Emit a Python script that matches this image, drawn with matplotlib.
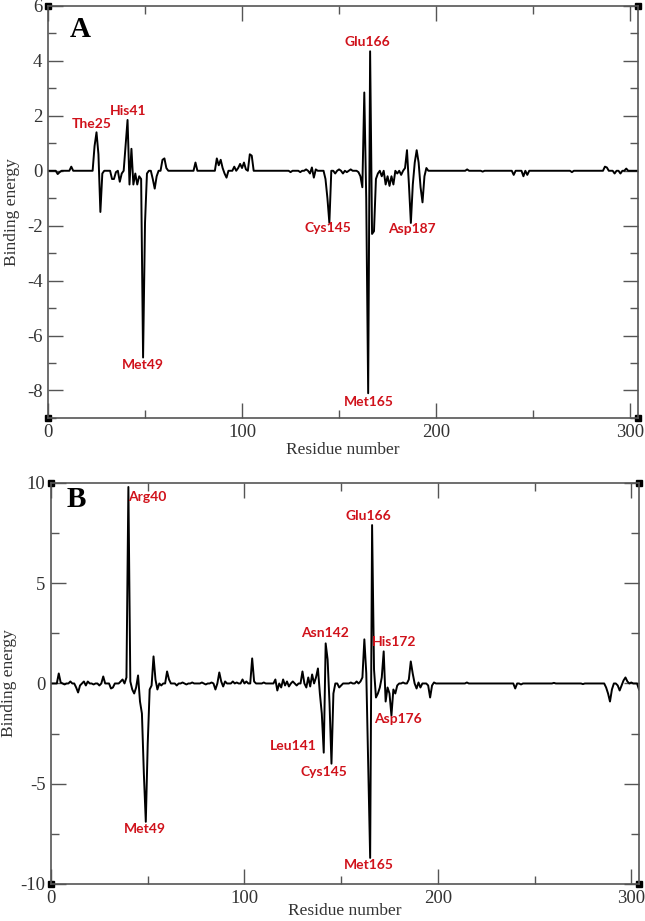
import numpy as np
import matplotlib.pyplot as plt

plt.rcParams['axes.unicode_minus'] = False

# residue energies (all other residues ~0)
a_res = [5, 6, 12, 24, 25, 26, 27, 28, 33, 34, 35, 37, 38, 40, 41, 42, 43, 44,
         45, 46, 47, 48, 49, 50, 51, 54, 55, 56, 59, 60, 61, 76, 87, 88, 89, 90,
         91, 92, 96, 98, 99, 100, 101, 102, 104, 105, 106, 125, 130, 133, 135,
         136, 137, 138, 143, 144, 145, 146, 148, 150, 152, 154, 156, 160, 161,
         162, 163, 164, 165, 166, 167, 168, 169, 170, 172, 174, 175, 176, 177,
         178, 180, 182, 184, 185, 186, 187, 188, 189, 190, 191, 192, 193, 194,
         195, 216, 224, 240, 241, 245, 246, 247, 270, 287, 288, 289, 292, 295,
         298]
a_val = [-0.12, -0.05, 0.15, 0.9, 1.4, 0.6, -1.5, -0.1, -0.3, -0.3, -0.05,
         -0.4, -0.1, 0.9, 1.85, -0.5, 0.8, -0.5, -0.1, -0.5, -0.2, -0.3, -6.8,
         -1.9, -0.1, -0.3, -0.65, -0.2, 0.4, 0.45, 0.1, 0.3, 0.45, 0.2, 0.4, 0.1,
         -0.1, -0.25, 0.15, 0.1, 0.25, 0.1, 0.3, 0.05, 0.6, 0.55, 0.0, -0.05,
         -0.05, 0.05, -0.1, 0.12, -0.25, 0.05, -0.3, -1.0, -1.9, 0.0, -0.1, 0.05,
         -0.1, -0.05, 0.05, -0.05, -0.2, -0.6, 2.85, -1.0, -8.1, 4.35, -2.3,
         -2.2, -0.3, -0.1, -0.2, -0.5, -0.2, -0.55, -0.2, -0.5, -0.1, -0.15,
         0.1, 0.75, -0.5, -1.9, -0.5, 0.3, 0.75, 0.3, -0.6, -1.15, -0.2, 0.1,
         0.05, -0.03, -0.15, 0.0, -0.2, 0.0, -0.15, -0.05, 0.15, 0.12, 0.0,
         -0.1, -0.1, 0.08]

b_res = [4, 5, 7, 10, 13, 14, 15, 17, 18, 19, 22, 25, 27, 28, 31, 32, 33, 36,
         37, 39, 40, 41, 42, 43, 44, 45, 46, 47, 48, 49, 50, 51, 52, 53, 54, 55,
         56, 57, 60, 61, 62, 65, 68, 70, 73, 78, 80, 83, 85, 86, 87, 88, 89, 90,
         92, 94, 96, 99, 101, 103, 104, 105, 106, 110, 116, 117, 118, 119, 120,
         121, 122, 123, 125, 127, 130, 131, 132, 133, 134, 135, 136, 137, 138,
         139, 140, 141, 142, 143, 144, 145, 146, 147, 149, 150, 152, 155, 158,
         160, 161, 162, 163, 164, 165, 166, 167, 168, 169, 170, 171, 172, 173,
         174, 175, 176, 177, 178, 179, 180, 182, 185, 186, 187, 188, 189, 190,
         191, 192, 195, 196, 197, 198, 215, 240, 241, 243, 260, 275, 287, 288,
         289, 290, 291, 293, 294, 295, 296, 297, 298, 300, 302, 304]
b_val = [0.5, 0.05, -0.05, 0.1, -0.2, -0.45, -0.1, 0.1, -0.1, 0.1, -0.05, -0.1,
         0.35, 0.0, -0.25, -0.2, 0.0, 0.1, 0.2, 0.3, 9.8, 0.1, -0.3, -0.5, -0.2,
         0.4, -0.9, -1.5, -4.5, -6.9, -3.0, -0.3, -0.1, 1.35, 0.2, -0.3, 0.0,
         -0.1, 0.6, 0.2, 0.0, -0.1, 0.05, -0.05, 0.05, 0.05, -0.05, 0.05, -0.3,
         0.0, 0.55, 0.1, -0.15, 0.1, 0.0, 0.1, 0.05, 0.2, 0.1, 0.0, 1.25, 0.1,
         0.0, 0.05, 0.2, -0.35, 0.0, -0.2, 0.2, -0.1, 0.1, -0.15, 0.1, -0.1, 0.6,
         0.0, -0.2, 0.3, -0.15, 0.45, 0.0, 0.3, 0.75, -0.5, -1.5, -3.45, 2.0,
         1.2, -1.0, -4.0, -0.5, 0.0, -0.2, -0.1, 0.0, 0.05, 0.1, 0.1, 0.3, 2.2,
         0.5, -4.0, -8.7, 7.9, 0.7, -0.7, -0.5, -0.2, 0.3, 1.6, -0.9, -0.2, -0.5,
         -1.6, -0.3, -0.5, -0.1, 0.0, 0.05, 0.2, 1.1, 0.5, 0.0, -0.25, 0.05,
         -0.2, 0.0, -0.1, -0.7, -0.1, 0.05, 0.05, -0.25, 0.0, -0.05, 0.03, -0.03,
         -0.2, -0.5, -0.9, -0.3, 0.0, -0.1, -0.35, -0.1, 0.15, 0.3, 0.1, 0.05,
         0.0, -0.3]

# residue labels: text, x, y (data coords)
a_labels = [("The25", 22.7, 1.71), ("His41", 41.2, 2.18), ("Met49", 48.7, -7.08),
            ("Cys145", 144.4, -2.08), ("Glu166", 164.7, 4.7),
            ("Met165", 165.5, -8.41), ("Asp187", 187.5, -2.12)]
b_labels = [("Arg40", 49.6, 9.32), ("Met49", 48.5, -7.27), ("Leu141", 125.2, -3.1),
            ("Asn142", 141.8, 2.5), ("Cys145", 141.3, -4.43),
            ("Glu166", 164.0, 8.35), ("His172", 177.6, 2.05),
            ("Asp176", 179.5, -1.79), ("Met165", 164.5, -9.05)]

a_major = [-8, -6, -4, -2, 0, 2, 4, 6]
b_major = [-10, -5, 0, 5, 10]

residues = np.arange(0, 305)


def full_series(res, val):
    e = np.zeros(len(residues))
    e[np.array(res)] = val
    return e


serif = 'Liberation Serif'
frame = '#555555'

fig = plt.figure(figsize=(6.45, 9.21), dpi=100)
axA = fig.add_axes([0.0744, 0.5462, 0.9146, 0.4473])
axB = fig.add_axes([0.0791, 0.0402, 0.9116, 0.4354])

panels = [
    (axA, full_series(a_res, a_val), (-9, 6), a_major, 1, a_labels, "A",
     (16.5, 5.16), -0.047, -0.058),
    (axB, full_series(b_res, b_val), (-10, 10), b_major, 2.5, b_labels, "B",
     (13.2, 9.19), -0.058, -0.047),
]

for ax, energy, ylim, major, minor, labels, letter, lpos, ylab_x, xlab_y in panels:
    ax.plot(residues, energy, color='black', lw=1.4)
    ax.set_xlim(0, 304)
    ax.set_ylim(*ylim)
    ax.set_xticks(np.arange(0, 301, 100))
    ax.set_xticks(np.arange(50, 300, 100), minor=True)
    ax.set_yticks(major)
    ax.set_yticks(np.arange(ylim[0], ylim[1] + 0.01, minor), minor=True)
    ax.tick_params(which='both', direction='in', top=True, right=True,
                   color=frame, width=1.0, labelsize=13.5, labelcolor='#333333',
                   pad=4)
    ax.tick_params(which='major', length=11)
    ax.tick_params(which='minor', length=6)
    for lab in ax.get_xticklabels() + ax.get_yticklabels():
        lab.set_fontfamily(serif)
    for sp in ax.spines.values():
        sp.set_color(frame)
        sp.set_linewidth(1.2)
    ax.set_xlabel("Residue number", fontfamily=serif, fontsize=12.5,
                  color='#333333')
    ax.set_ylabel("Binding energy", fontfamily=serif, fontsize=12.5,
                  color='#333333')
    ax.xaxis.set_label_coords(0.5, xlab_y)
    ax.yaxis.set_label_coords(ylab_x, 0.5)
    # little square markers at the corners (grace style)
    ax.plot([0, 1, 0, 1], [0, 0, 1, 1], 's', color='black', ms=4,
            transform=ax.transAxes, clip_on=False)
    ax.text(lpos[0], lpos[1], letter, fontfamily=serif, fontweight='bold',
            fontsize=21, ha='center', va='center')
    for txt, x, y in labels:
        ax.text(x, y, txt, color='#d0121b', fontfamily='Lato',
                fontweight='bold', fontsize=10, ha='center', va='center')

fig.savefig("out.png", dpi=100)
